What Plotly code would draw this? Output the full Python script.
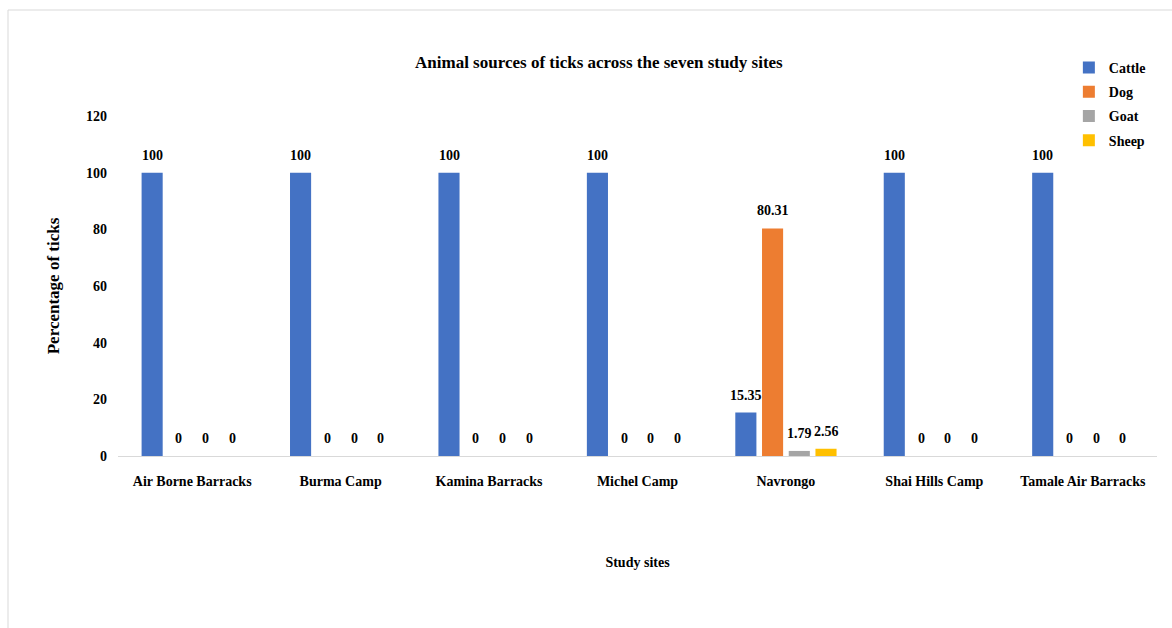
import plotly.graph_objects as go

# Study sites and percentage of ticks collected from each animal host
sites = ["Air Borne Barracks", "Burma Camp", "Kamina Barracks", "Michel Camp",
         "Navrongo", "Shai Hills Camp", "Tamale Air Barracks"]
cattle = [100, 100, 100, 100, 15.35, 100, 100]
dog = [0, 0, 0, 0, 80.31, 0, 0]
goat = [0, 0, 0, 0, 1.79, 0, 0]
sheep = [0, 0, 0, 0, 2.56, 0, 0]

series_names = ["Cattle", "Dog", "Goat", "Sheep"]
series_values = [cattle, dog, goat, sheep]
series_colors = ["#4472C4", "#ED7D31", "#A5A5A5", "#FFC000"]
y_ticks = [0, 20, 40, 60, 80, 100, 120]

FONT = "Liberation Serif"
BARGAP = 0.28
n_series = len(series_names)
slot = (1 - BARGAP) / n_series

fig = go.Figure()
annotations = []
for i, (name, vals, color) in enumerate(zip(series_names, series_values, series_colors)):
    fig.add_trace(go.Bar(
        x=sites, y=vals, name=name, marker_color=color,
        marker_line_width=0, legendgroup=name,
    ))
    # value labels placed above each bar
    for j, v in enumerate(vals):
        annotations.append(dict(
            x=j + (i - (n_series - 1) / 2) * slot, y=v, xref="x", yref="y",
            text=f"{v:g}", showarrow=False, yanchor="bottom", yshift=8,
            font=dict(family=FONT, size=14, color="black", weight="bold"),
        ))

fig.update_layout(
    width=1172, height=628,
    margin=dict(l=118, r=15, t=116, b=172, autoexpand=False),
    paper_bgcolor="white", plot_bgcolor="white",
    barmode="group", bargap=BARGAP, bargroupgap=0.21,
    font=dict(family=FONT, size=14, color="black", weight="bold"),
    title=dict(
        text="Animal sources of ticks across the seven study sites",
        x=0.511, xanchor="center", y=1 - 62 / 628, yanchor="middle",
        font=dict(family=FONT, size=17, color="black", weight="bold"),
    ),
    legend=dict(
        xref="container", yref="container", x=0.912, y=1 - 52 / 628,
        xanchor="left", yanchor="top", traceorder="grouped", tracegroupgap=3,
        font=dict(family=FONT, size=14, color="black", weight="bold"),
        bgcolor="rgba(0,0,0,0)", itemwidth=30,
    ),
    annotations=annotations,
    shapes=[dict(
        type="rect", xref="paper", yref="paper",
        x0=(8 - 118) / 1039, x1=1.06, y0=-0.6, y1=(456 - 10) / 340,
        line=dict(color="#d9d9d9", width=1), fillcolor="rgba(0,0,0,0)", layer="below",
    )],
)

fig.update_xaxes(
    showline=True, linecolor="#d9d9d9", linewidth=1, showgrid=False,
    ticks="", ticklabelstandoff=12, automargin=False,
    tickfont=dict(family=FONT, size=14, color="black", weight="bold"),
    title=dict(text="Study sites", standoff=69,
               font=dict(family=FONT, size=14, color="black", weight="bold")),
)
fig.update_yaxes(
    range=[0, 120], tickvals=y_ticks, showline=False, showgrid=False,
    zeroline=False, ticks="", ticklabelstandoff=10, automargin=False,
    tickfont=dict(family=FONT, size=14, color="black", weight="bold"),
    title=dict(text="Percentage of ticks", standoff=22,
               font=dict(family=FONT, size=17, color="black", weight="bold")),
)

fig.write_html("out.html")
